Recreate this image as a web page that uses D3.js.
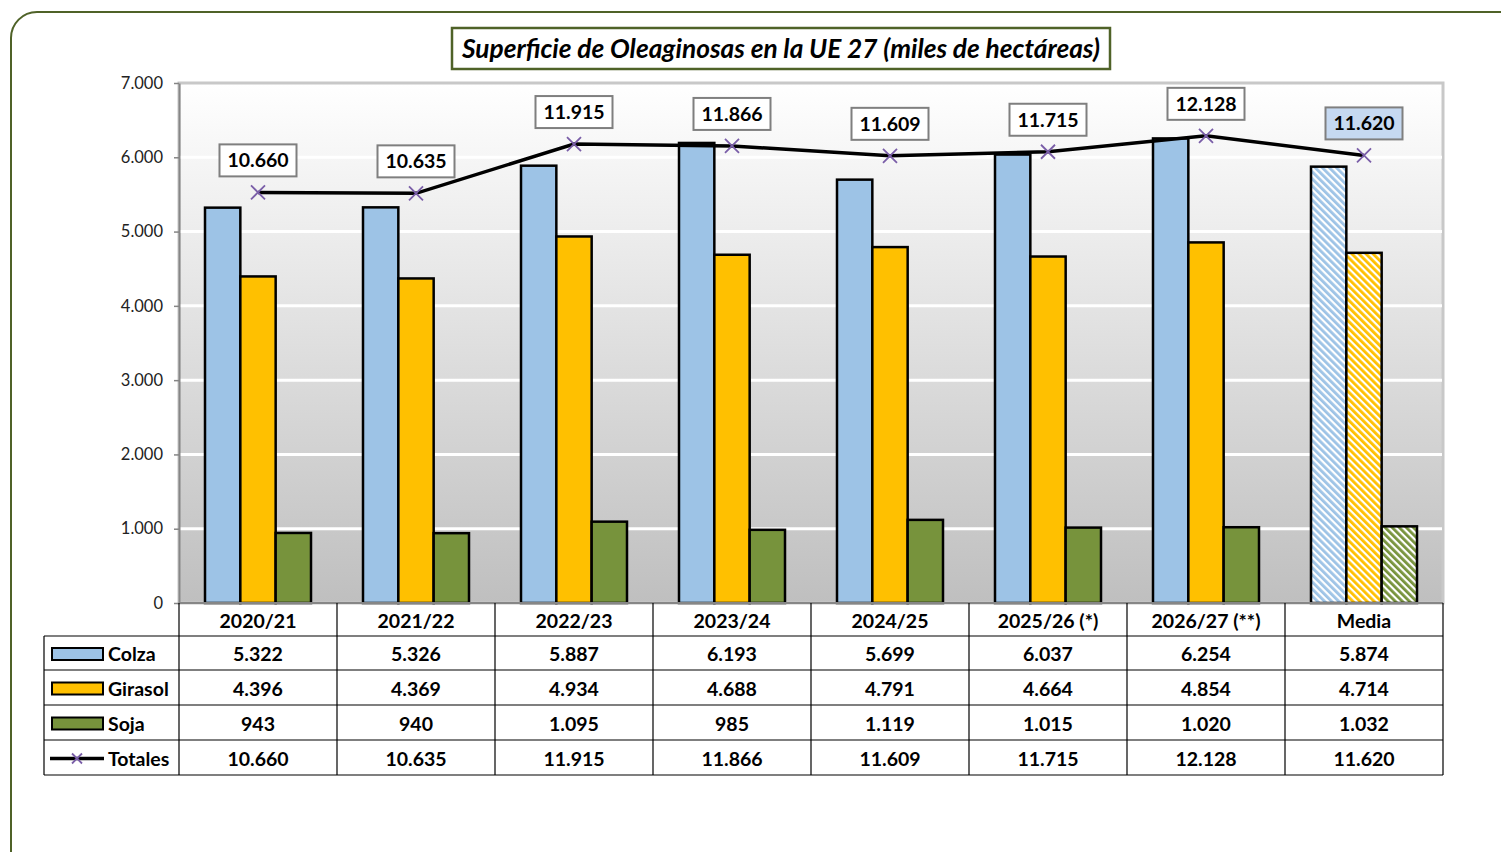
<!DOCTYPE html>
<html><head><meta charset="utf-8">
<script src="https://cdn.jsdelivr.net/npm/d3@7"></script>
<style>body{margin:0;background:#fff;} svg{display:block;font-family:Lato,"Open Sans",sans-serif;}</style>
</head><body>
<svg id="chart" width="1501" height="852"></svg>
<script>
const categories = ["2020/21","2021/22","2022/23","2023/24","2024/25","2025/26 (*)","2026/27 (**)","Media"];
const colza   = [5322, 5326, 5887, 6193, 5699, 6037, 6254, 5874];
const girasol = [4396, 4369, 4934, 4688, 4791, 4664, 4854, 4714];
const soja    = [943, 940, 1095, 985, 1119, 1015, 1020, 1032];
const totales = [10660, 10635, 11915, 11866, 11609, 11715, 12128, 11620];
const seriesNames = ["Colza","Girasol","Soja","Totales"];
const yTickValues = [0,1000,2000,3000,4000,5000,6000,7000];
const title = "Superficie de Oleaginosas en la UE 27 (miles de hectáreas)";

const colors = {Colza:"#9dc3e6", Girasol:"#ffc000", Soja:"#77933c"};
const barSeries = [["Colza", colza], ["Girasol", girasol], ["Soja", soja]];

const loc = d3.formatLocale({decimal:",", thousands:".", grouping:[3], currency:["",""]});
const fmt = loc.format(",d");

const svg = d3.select("#chart");
const defs = svg.append("defs");

// outer rounded frame
svg.append("rect").attr("x",11).attr("y",12).attr("width",1515).attr("height",870)
  .attr("rx",26).attr("fill","none").attr("stroke","#4f6228").attr("stroke-width",2);

// plot area
const L = 179, R = 1443, T = 83, B = 603;
const x = d3.scaleBand().domain(categories).range([L, R]).paddingInner(0).paddingOuter(0);
const y = d3.scaleLinear().domain([0, 7000]).range([B, T]);
const y2 = d3.scaleLinear().domain([0, 13500]).range([B, T]);
const groupPad = 26;
const xs = d3.scaleBand().domain(barSeries.map(d=>d[0])).range([groupPad, x.bandwidth()-groupPad]).padding(0);

const grad = defs.append("linearGradient").attr("id","bg").attr("x1",0).attr("y1",0).attr("x2",0).attr("y2",1);
grad.append("stop").attr("offset","0%").attr("stop-color","#ffffff");
grad.append("stop").attr("offset","100%").attr("stop-color","#bfbfbf");

// hatch patterns
barSeries.forEach(([name]) => {
  const p = defs.append("pattern").attr("id","hatch-"+name).attr("patternUnits","userSpaceOnUse")
    .attr("width",5).attr("height",5).attr("patternTransform","rotate(-45)");
  p.append("rect").attr("width",5).attr("height",5).attr("fill","#fff");
  p.append("rect").attr("x",0).attr("width",2.8).attr("height",5).attr("fill",colors[name]);
});

svg.append("rect").attr("x",L).attr("y",T).attr("width",R-L).attr("height",B-T)
  .attr("fill","url(#bg)").attr("stroke","#c8c8c8").attr("stroke-width",3);

// gridlines
svg.append("g").selectAll("line").data(yTickValues.filter(v=>v>0 && v<7000)).join("line")
  .attr("x1",L+1).attr("x2",R-1).attr("y1",d=>y(d)).attr("y2",d=>y(d))
  .attr("stroke","#ffffff").attr("stroke-width",3);

// y axis
const yAxis = d3.axisLeft(y).tickValues(yTickValues).tickFormat(d=>fmt(d)).tickSize(5).tickSizeOuter(0);
const ga = svg.append("g").attr("transform",`translate(${L},0)`).call(yAxis);
ga.select(".domain").attr("stroke","#868686").attr("stroke-width",2);
ga.selectAll(".tick line").attr("stroke","#868686").attr("stroke-width",1.5);
ga.selectAll(".tick text").attr("font-size",16.5).attr("fill","#222").attr("x",-16).attr("font-family","Lato, sans-serif");

// bars
const isMedia = c => c === "Media";
barSeries.forEach(([name, vals]) => {
  svg.append("g").selectAll("rect").data(vals).join("rect")
    .attr("x",(d,i)=>x(categories[i]) + xs(name))
    .attr("width", xs.bandwidth())
    .attr("y", d=>y(d))
    .attr("height", d=>y(0)-y(d))
    .attr("fill",(d,i)=> isMedia(categories[i]) ? `url(#hatch-${name})` : colors[name])
    .attr("stroke","#000").attr("stroke-width",2.5);
});

// x axis base
svg.append("line").attr("x1",L).attr("x2",R).attr("y1",B).attr("y2",B).attr("stroke","#868686").attr("stroke-width",2);

// totals line
const line = d3.line().x((d,i)=>x(categories[i])+x.bandwidth()/2).y(d=>y2(d));
svg.append("path").datum(totales).attr("d",line).attr("fill","none").attr("stroke","#000").attr("stroke-width",3.5);
const ms = 7;
const mk = svg.append("g");
totales.forEach((d,i)=>{
  const cx = x(categories[i])+x.bandwidth()/2, cy = y2(d);
  mk.append("path").attr("d",`M${cx-ms},${cy-ms}L${cx+ms},${cy+ms}M${cx-ms},${cy+ms}L${cx+ms},${cy-ms}`)
    .attr("stroke","#7a5ea8").attr("stroke-width",1.8);
});

// data labels
const lbl = svg.append("g");
totales.forEach((d,i)=>{
  const cx = x(categories[i])+x.bandwidth()/2, cy = y2(d) - 32;
  const w = 77, h = 32;
  lbl.append("rect").attr("x",cx-w/2).attr("y",cy-h/2).attr("width",w).attr("height",h)
    .attr("fill", isMedia(categories[i]) ? "#c6d9f1" : "#fff").attr("stroke","#7f7f7f").attr("stroke-width",2);
  lbl.append("text").attr("x",cx).attr("y",cy).attr("dy","0.36em").attr("text-anchor","middle")
    .attr("font-size",19.5).attr("font-weight",700).attr("fill","#000").text(fmt(d));
});

// title
const tw = 658;
svg.append("rect").attr("x",452).attr("y",28).attr("width",tw).attr("height",41)
  .attr("fill","#fff").attr("stroke","#4f6228").attr("stroke-width",2.5);
svg.append("text").attr("x",452+tw/2).attr("y",49).attr("dy","0.36em").attr("text-anchor","middle")
  .attr("font-size",26).attr("font-weight",700).attr("font-style","italic").attr("fill","#000")
  .attr("textLength",638).attr("lengthAdjust","spacingAndGlyphs").text(title);

// data table
const tblL = 44;
const rowTops = [603, 636, 670, 705, 740, 775];
const tg = svg.append("g");
categories.forEach(c=>{
  tg.append("text").attr("x",x(c)+x.bandwidth()/2).attr("y",(rowTops[0]+rowTops[1])/2+1).attr("dy","0.36em")
    .attr("text-anchor","middle").attr("font-size",19.5).attr("font-weight",700).text(c);
});
const rowsData = [colza, girasol, soja, totales];
rowsData.forEach((vals, r)=>{
  const cy = (rowTops[r+1]+rowTops[r+2])/2 + 1;
  vals.forEach((v,i)=>{
    tg.append("text").attr("x",x(categories[i])+x.bandwidth()/2).attr("y",cy).attr("dy","0.36em")
      .attr("text-anchor","middle").attr("font-size",19.5).attr("font-weight",700).text(fmt(v));
  });
  const name = seriesNames[r];
  if (r < 3) {
    tg.append("rect").attr("x",52).attr("y",cy-6).attr("width",51).attr("height",12)
      .attr("fill",colors[name]).attr("stroke","#000").attr("stroke-width",2);
  } else {
    tg.append("line").attr("x1",50).attr("x2",104).attr("y1",cy).attr("y2",cy).attr("stroke","#000").attr("stroke-width",3.5);
    const mx = 77, m = 5;
    tg.append("path").attr("d",`M${mx-m},${cy-m}L${mx+m},${cy+m}M${mx-m},${cy+m}L${mx+m},${cy-m}`)
      .attr("stroke","#7a5ea8").attr("stroke-width",1.8);
  }
  tg.append("text").attr("x",108).attr("y",cy).attr("dy","0.36em").attr("font-size",19.5).attr("font-weight",700).text(name);
});
for (let r=1;r<rowTops.length;r++){
  tg.append("line").attr("x1", tblL).attr("x2",R).attr("y1",rowTops[r]).attr("y2",rowTops[r]).attr("stroke","#000").attr("stroke-width",1.2);
}
const vx = categories.map(c=>x(c)).concat([R]);
vx.forEach(v=>{
  tg.append("line").attr("x1",v).attr("x2",v).attr("y1",B).attr("y2",rowTops[5]).attr("stroke","#000").attr("stroke-width",1.2);
});
tg.append("line").attr("x1",tblL).attr("x2",tblL).attr("y1",rowTops[1]).attr("y2",rowTops[5]).attr("stroke","#000").attr("stroke-width",1.2);
</script>
</body></html>
